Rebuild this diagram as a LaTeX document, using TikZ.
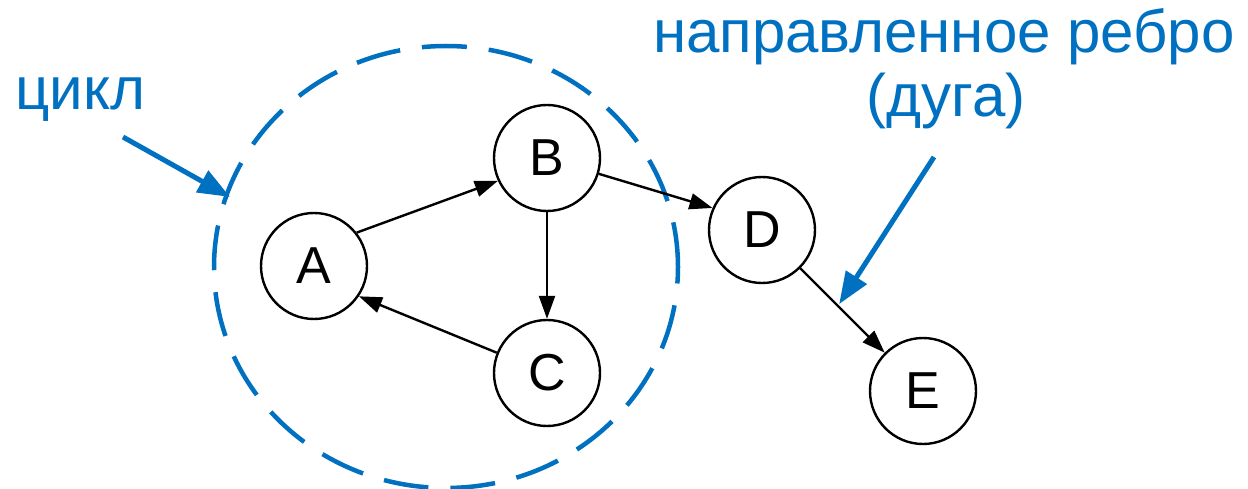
\documentclass[tikz,border=0pt]{standalone}
\usepackage{fontspec}
\setmainfont{Liberation Sans}
\usetikzlibrary{arrows.meta,calc,shapes.geometric}
\definecolor{myblue}{RGB}{0,112,192}
\begin{document}
\begin{tikzpicture}[x=1pt,y=-1pt,
  vertex/.style={circle,draw=black,line width=2.4pt,minimum size=106pt,inner sep=0pt,
    font=\fontsize{52}{52}\selectfont},
  edge/.style={draw=black,line width=2.4pt,-{Triangle[length=23pt,width=16pt]}},
  callout/.style={draw=myblue,line width=5pt,-{Triangle[length=32pt,width=24pt]}},
  lbl/.style={text=myblue,inner sep=0pt,font=\fontsize{60}{64}\selectfont},
  cyclebox/.style={ellipse,draw=myblue,line width=4.5pt,dash pattern=on 45pt off 22pt,
    minimum width=464pt,minimum height=442pt,inner sep=0pt}]
\useasboundingbox (0,0) rectangle (1248,489);
% cycle outline
\node[cyclebox] (cyc) at (446,267) {};
% vertices
\node[vertex] (A) at (314,266) {A};
\node[vertex] (B) at (547,158) {B};
\node[vertex] (C) at (547,373) {C};
\node[vertex] (D) at (762,230) {D};
\node[vertex] (E) at (923,391) {E};
% edges
\draw[edge] (A.38) -- (B.205);
\draw[edge] (B.south) -- (C.north);
\draw[edge] (C.158) -- (A.326);
\draw[edge] (B.343) -- (D.156);
\draw[edge] (D.315) -- (E.135);
% labels
\node[lbl,anchor=base west] (cyclbl) at (15,110) {цикл};
\node[lbl,anchor=base] (arclbl1) at (944,53) {направленное ребро};
\node[lbl,anchor=base] (arclbl2) at (946,117) {(дуга)};
% callout arrows
\coordinate (c1s) at (123,137);
\coordinate (c1e) at (230,197);
\draw[callout] (c1s) -- (c1e);
\coordinate (c2s) at (934,157);
\coordinate (c2e) at ($(D.315)!0.46!(E.135)+(0,-3)$);
\draw[callout] (c2s) -- (c2e);
\end{tikzpicture}
\end{document}
